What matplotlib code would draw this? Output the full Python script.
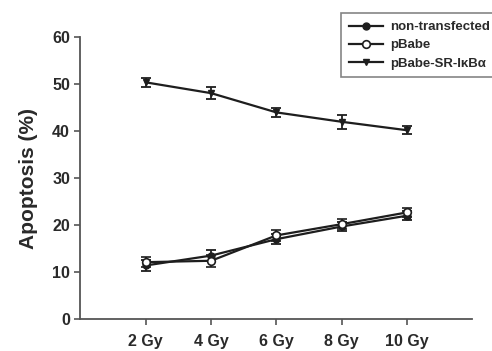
import numpy as np
import matplotlib
matplotlib.use('Agg')
import matplotlib.pyplot as plt

plt.rcParams['font.family'] = ['Liberation Sans', 'DejaVu Sans']
plt.rcParams['font.weight'] = 'bold'

doses = ['2 Gy', '4 Gy', '6 Gy', '8 Gy', '10 Gy']

# top series
sr_ikba = [50.4, 48.1, 44.0, 42.0, 40.2]
sr_ikba_err = [1.0, 1.3, 0.9, 1.5, 0.8]

non_transfected = [11.4, 13.5, 17.0, 19.7, 22.0]
non_transfected_err = [1.1, 1.2, 1.0, 0.9, 0.9]

pbabe = [12.1, 12.4, 17.8, 20.2, 22.7]
pbabe_err = [1.0, 1.3, 1.1, 1.0, 0.9]

x = np.arange(1, len(doses) + 1)
col = '#1e1e1e'

fig = plt.figure(figsize=(4.92, 3.51), dpi=100)
ax = fig.add_axes([0.1636, 0.0912, 0.7964, 0.8026])

l1 = ax.errorbar(x, non_transfected, yerr=non_transfected_err, color=col, lw=1.6,
                 marker='o', ms=5, mfc=col, mec=col, capsize=3.5, elinewidth=1.3,
                 capthick=1.3, label='non-transfected')
l2 = ax.errorbar(x, pbabe, yerr=pbabe_err, color=col, lw=1.6,
                 marker='o', ms=5.5, mfc='white', mec=col, mew=1.2, capsize=3.5,
                 elinewidth=1.3, capthick=1.3, label='pBabe')
l3 = ax.errorbar(x, sr_ikba, yerr=sr_ikba_err, color=col, lw=1.6,
                 marker='v', ms=4.5, mfc=col, mec=col, capsize=3.5, elinewidth=1.3,
                 capthick=1.3, label='pBabe-SR-I\u03baB\u03b1')

ax.set_xlim(0, 6)
ax.set_ylim(0, 60)
ax.set_xticks(x)
ax.set_xticklabels(doses, fontsize=11.5, fontweight='bold', color='#2a2a2a')
ax.set_yticks(np.arange(0, 61, 10))
ax.tick_params(axis='y', labelsize=11.5, colors='#555555', labelcolor='#2a2a2a',
               length=4, width=1.2)
ax.tick_params(axis='x', colors='#555555', labelcolor='#2a2a2a',
               length=4, width=1.2, pad=7)
ax.set_ylabel('Apoptosis (%)', fontsize=15, fontweight='bold', color='#2a2a2a',
              labelpad=10)

for s in ['top', 'right']:
    ax.spines[s].set_visible(False)
for s in ['left', 'bottom']:
    ax.spines[s].set_color('#555555')
    ax.spines[s].set_linewidth(1.3)

leg = fig.legend(handles=[l1[0], l2[0], l3[0]],
                 labels=['non-transfected', 'pBabe', 'pBabe-SR-I\u03baB\u03b1'],
                 loc='upper left',
                 bbox_to_anchor=(341 / 492, 1 - 13 / 351), fontsize=9.5,
                 frameon=True, fancybox=False, borderpad=0.6, labelspacing=0.45,
                 handlelength=2.6, handletextpad=0.5, borderaxespad=0)
leg.get_frame().set_edgecolor('#666666')
leg.get_frame().set_linewidth(1.2)
for t in leg.get_texts():
    t.set_fontweight('bold')
    t.set_color('#2a2a2a')

fig.savefig('out.png', dpi=100)
